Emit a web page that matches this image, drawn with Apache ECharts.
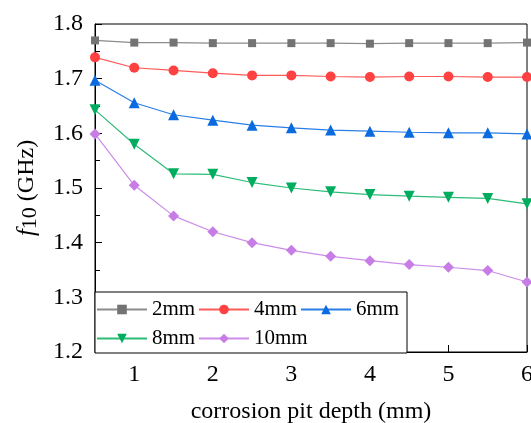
<!DOCTYPE html>
<html lang="en">
<head>
    <meta charset="UTF-8">
    <title>f10 vs corrosion pit depth</title>
    <script src="https://cdn.jsdelivr.net/npm/echarts@6.0.0/dist/echarts.min.js"></script>
    <style>
        html, body { margin: 0; padding: 0; background: #fff; }
        #chart { width: 531px; height: 423px; }
    </style>
</head>
<body>
    <div id="chart"></div>
    <script>
        // pit depth (mm)
        var depth = [0.5, 1, 1.5, 2, 2.5, 3, 3.5, 4, 4.5, 5, 5.5, 6];
        var xTicks = [1, 2, 3, 4, 5, 6];

        // f10 (GHz) for each pit width
        var w2mm  = [1.770, 1.766, 1.766, 1.765, 1.765, 1.765, 1.765, 1.764, 1.765, 1.765, 1.765, 1.766];
        var w4mm  = [1.739, 1.720, 1.715, 1.710, 1.706, 1.706, 1.704, 1.703, 1.704, 1.704, 1.703, 1.703];
        var w6mm  = [1.697, 1.656, 1.634, 1.624, 1.615, 1.610, 1.606, 1.604, 1.602, 1.601, 1.601, 1.599];
        var w8mm  = [1.643, 1.580, 1.526, 1.525, 1.510, 1.500, 1.493, 1.488, 1.485, 1.483, 1.481, 1.471];
        var w10mm = [1.599, 1.505, 1.449, 1.420, 1.400, 1.386, 1.375, 1.367, 1.360, 1.355, 1.349, 1.328];

        var names = ['2mm', '4mm', '6mm', '8mm', '10mm'];

        var serif = "'Liberation Serif', 'Times New Roman', serif";

        function pairs(ys) {
            return depth.map(function (x, i) { return [x, ys[i]]; });
        }

        function makeSeries(name, ys, color, lineColor, symbol, size, rotate) {
            return {
                name: name,
                type: 'line',
                data: pairs(ys),
                symbol: symbol,
                symbolSize: size,
                symbolRotate: rotate || 0,
                itemStyle: { color: color },
                lineStyle: { color: lineColor, width: 1.2 },
                animation: false
            };
        }

        var chart = echarts.init(document.getElementById('chart'));

        chart.setOption({
            backgroundColor: '#fff',
            grid: {
                left: 95, right: 4, top: 24, bottom: 71,
                outerBoundsMode: 'none',
                containLabel: false,
                show: true, borderColor: '#000', borderWidth: 1
            },
            legend: {
                data: names,
                left: 95, top: 292, width: 310,
                padding: [3, 5, 0, 1],
                itemGap: 0,
                itemWidth: 50,
                itemHeight: 12,
                backgroundColor: '#fff',
                borderColor: '#000',
                borderWidth: 1,
                textStyle: {
                    fontFamily: serif, fontSize: 21, color: '#000',
                    width: 46, lineHeight: 29
                }
            },
            xAxis: {
                type: 'value',
                min: 0.5, max: 6, interval: 0.5,
                name: 'corrosion pit depth (mm)',
                nameLocation: 'middle',
                nameGap: 48,
                nameTextStyle: { fontFamily: serif, fontSize: 24, color: '#000' },
                axisLine: { lineStyle: { color: '#000', width: 1 } },
                axisTick: { inside: true, length: 7, customValues: xTicks, lineStyle: { color: '#000' } },
                axisLabel: { customValues: xTicks, margin: 11, fontFamily: serif, fontSize: 24, color: '#000' },
                splitLine: { show: false }
            },
            yAxis: {
                type: 'value',
                min: 1.2, max: 1.8, interval: 0.1,
                name: '{i|f}{s|10} (GHz)',
                nameLocation: 'middle',
                nameGap: 54,
                nameTextStyle: {
                    fontFamily: serif, fontSize: 24, color: '#000',
                    rich: {
                        i: { fontFamily: serif, fontSize: 25, fontStyle: 'italic', color: '#000' },
                        s: { fontFamily: serif, fontSize: 22, color: '#000', padding: [6, 0, 0, 0] }
                    }
                },
                axisLine: { lineStyle: { color: '#000', width: 1 } },
                axisTick: { inside: true, length: 7, lineStyle: { color: '#000' } },
                minorTick: { show: true, splitNumber: 2, length: 5, lineStyle: { color: '#000' } },
                axisLabel: {
                    margin: 12, fontFamily: serif, fontSize: 24, color: '#000',
                    formatter: function (v) { return v.toFixed(1); }
                },
                splitLine: { show: false }
            },
            series: [
                makeSeries('2mm', w2mm, '#737373', '#8c8c8c', 'rect', 8),
                makeSeries('4mm', w4mm, '#ff4141', '#ff5a5a', 'circle', 10),
                makeSeries('6mm', w6mm, '#0a6be0', '#2a7fe6', 'triangle', 11),
                makeSeries('8mm', w8mm, '#00ad5f', '#2dbb78', 'triangle', 11, 180),
                makeSeries('10mm', w10mm, '#c77de5', '#cc8ce8', 'diamond', 11)
            ]
        });
    </script>
</body>
</html>
